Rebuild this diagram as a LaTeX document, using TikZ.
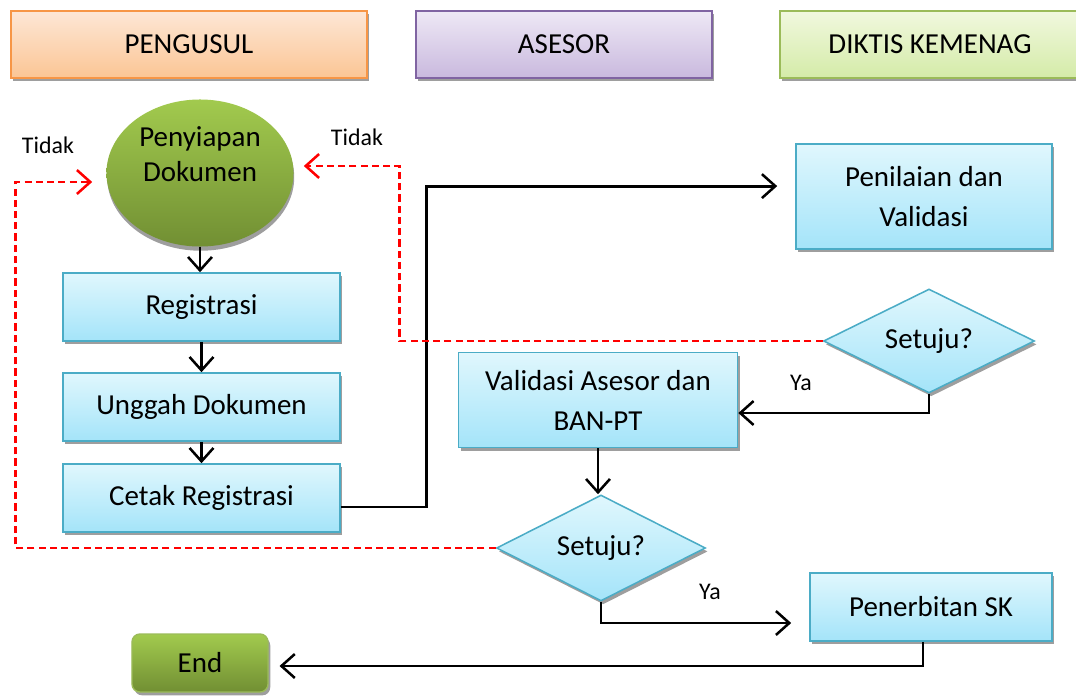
\documentclass[tikz,border=0pt]{standalone}
\usepackage{fontspec}
\setmainfont{Carlito}
\usetikzlibrary{arrows.meta}
\usetikzlibrary{shapes.geometric,shadows}

\definecolor{boxline}{HTML}{4BACC6}
\definecolor{boxtop}{HTML}{E0F7FD}
\definecolor{boxbot}{HTML}{A4E4F9}
\definecolor{orgline}{HTML}{F79646}
\definecolor{orgtop}{HTML}{FDE7D6}
\definecolor{orgbot}{HTML}{FBC594}
\definecolor{purline}{HTML}{8064A2}
\definecolor{purtop}{HTML}{EEE8F5}
\definecolor{purbot}{HTML}{C9B9DE}
\definecolor{grnline}{HTML}{9BBB59}
\definecolor{grntop}{HTML}{F1F8DE}
\definecolor{grnbot}{HTML}{D4EBA8}
\definecolor{balltop}{HTML}{A2CA4E}
\definecolor{ballbot}{HTML}{718F33}

\tikzset{
    bayang/.style={drop shadow={shadow xshift=1.6pt, shadow yshift=-2.4pt, fill=black!38, opacity=1}},
    proses/.style={rectangle, draw=boxline, line width=1.1pt, top color=boxtop, bottom color=boxbot, bayang, align=center},
    judul/.style={rectangle, line width=1.5pt, bayang, minimum height=1.675cm},
    putusan/.style={diamond, aspect=2, inner sep=0pt, draw=boxline, line width=1.1pt, top color=boxtop, bottom color=boxbot, bayang},
    alur/.style={line width=2pt, -{Straight Barb[length=9.5pt, width=17pt, line width=1.8pt]}},
    tolak/.style={red, line width=2pt, dash pattern=on 5pt off 3pt, -{Straight Barb[length=9.5pt, width=17pt, line width=1.8pt]}},
    ket/.style={font=\fontsize{17}{20}\selectfont}
}

\begin{document}
\begin{tikzpicture}[x=0.025cm, y=-0.025cm, every node/.style={font=\fontsize{20.6}{28.5}\selectfont}]
                \useasboundingbox (0,0) rectangle (1076,696);
                % lajur
                \node[judul, draw=orgline, top color=orgtop, bottom color=orgbot, minimum width=8.9cm] (pengusul) at (189,44.5) {PENGUSUL};
                \node[judul, draw=purline, top color=purtop, bottom color=purbot, minimum width=7.4cm] (asesor) at (564,44.5) {ASESOR};
                \node[judul, draw=grnline, top color=grntop, bottom color=grnbot, minimum width=7.5cm] (diktis) at (930,44.5) {DIKTIS KEMENAG};
                % pengusul
                \node[ellipse, inner sep=0pt, minimum width=4.675cm, minimum height=3.675cm, top color=balltop, bottom color=ballbot, drop shadow={shadow xshift=0.5pt, shadow yshift=-3pt, fill=black!38, opacity=1}] (doc) at (200,173) {};
                \node[align=center, font=\fontsize{20.6}{24.9}\selectfont] (doctext) at (200,154) {Penyiapan\\Dokumen};
                \node[proses, minimum width=6.925cm, minimum height=1.7cm] (reg) at (201.5,307) {Registrasi};
                \node[proses, minimum width=6.925cm, minimum height=1.7cm] (ung) at (201.5,407) {Unggah Dokumen};
                \node[proses, minimum width=6.925cm, minimum height=1.7cm] (cetak) at (201.5,498) {Cetak Registrasi};
                \node[rectangle, rounded corners=0.2cm, draw=grnline, line width=1pt, top color=balltop, bottom color=ballbot, bayang, minimum width=3.4cm, minimum height=1.45cm] (selesai) at (200,663) {End};
                % asesor dan diktis
                \node[proses, minimum width=6.4cm, minimum height=2.625cm] (nilai) at (924,196.5) {Penilaian dan\\Validasi};
                \node[putusan, minimum width=5.275cm, minimum height=2.6cm] (setuju1) at (929,341) {Setuju?};
                \node[proses, minimum width=6.975cm, minimum height=2.375cm] (validasi) at (598,400) {Validasi Asesor dan\\BAN-PT};
                \node[putusan, minimum width=5.225cm, minimum height=2.65cm] (setuju2) at (601,548) {Setuju?};
                \node[proses, minimum width=6.05cm, minimum height=1.7cm] (sk) at (931,607) {Penerbitan SK};
                % keterangan
                \node[ket] (tidak1) at (48,145) {Tidak};
                \node[ket] (tidak2) at (357,137) {Tidak};
                \node[ket] (ya1) at (801,383) {Ya};
                \node[ket] (ya2) at (710,592) {Ya};
                % alur
                \draw[alur] (doc.south) -- (doc.south |- reg.north);
                \draw[alur] (reg.south) -- (ung.north);
                \draw[alur] (ung.south) -- (cetak.north);
                \draw[alur] ([yshift=-0.225cm]cetak.east) -- ++(86,0) |- ([xshift=-0.45cm, yshift=0.26cm]nilai.west);
                \draw[alur] (setuju1.south) |- ([yshift=-0.325cm]validasi.east);
                \draw[alur] (validasi.south) -- (validasi.south |- setuju2.north);
                \draw[alur] (setuju2.south) |- ([xshift=-0.45cm, yshift=-0.4cm]sk.west);
                \draw[alur] ([xshift=-0.2cm]sk.south) |- ([xshift=0.27cm, yshift=-0.075cm]selesai.east);
                \draw[tolak] (setuju1.west) -- ++(-423,0) |- ([xshift=0.25cm, yshift=0.175cm]doc.east);
                \draw[tolak] (setuju2.west) -- ++(-480,0) |- ([xshift=-0.35cm, yshift=-0.225cm]doc.west);
\end{tikzpicture}
\end{document}
